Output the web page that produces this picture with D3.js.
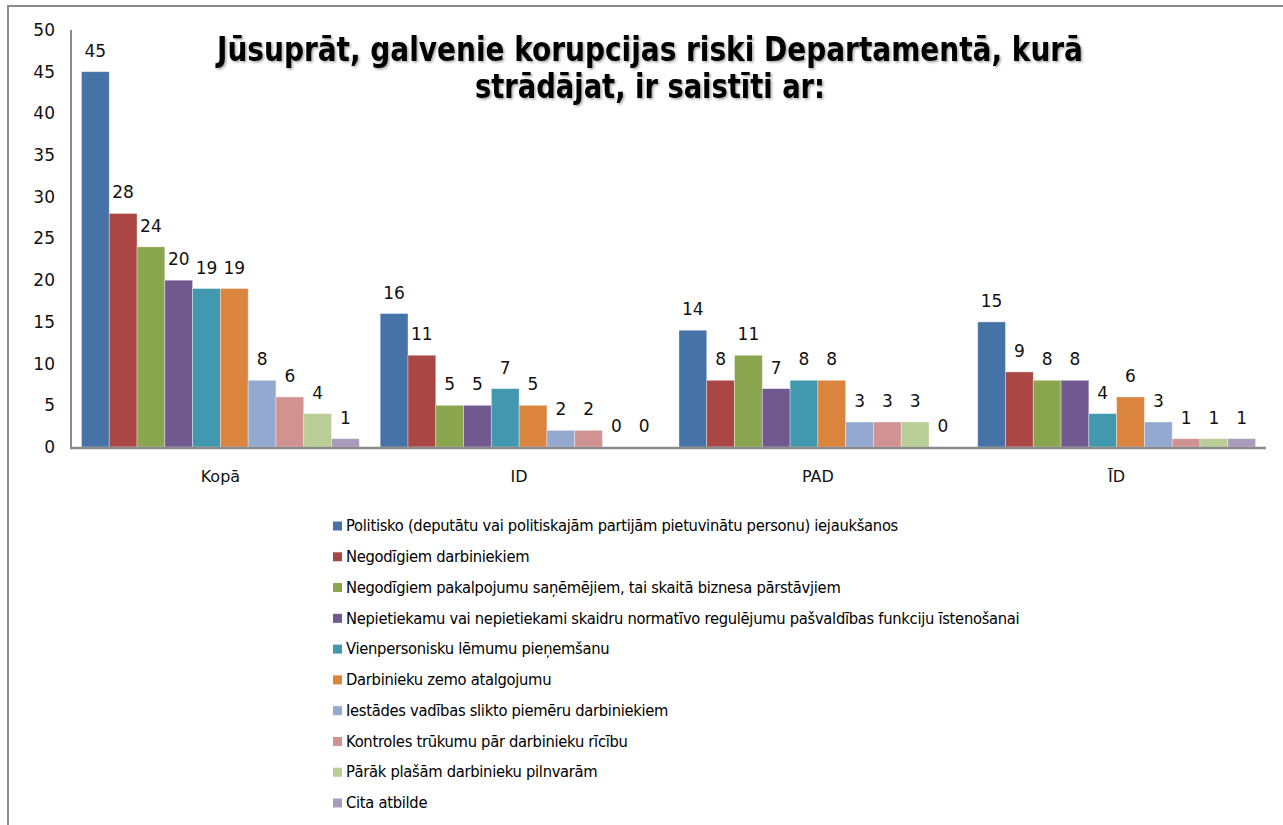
<!DOCTYPE html>
<html>
<head>
<meta charset="utf-8">
<script src="https://cdn.jsdelivr.net/npm/d3@7/dist/d3.min.js"></script>
<style>
  body { margin: 0; background: #fff; }
  svg { display: block; font-family: "DejaVu Sans", Verdana, sans-serif; }
</style>
</head>
<body>
<div id="chart"></div>
<script>
// chart data
const groups = ["Kopā", "ID", "PAD", "ĪD"];
const seriesNames = [
  "Politisko (deputātu vai politiskajām partijām pietuvinātu personu) iejaukšanos",
  "Negodīgiem darbiniekiem",
  "Negodīgiem pakalpojumu saņēmējiem, tai skaitā biznesa pārstāvjiem",
  "Nepietiekamu vai nepietiekami skaidru normatīvo regulējumu pašvaldības funkciju īstenošanai",
  "Vienpersonisku lēmumu pieņemšanu",
  "Darbinieku zemo atalgojumu",
  "Iestādes vadības slikto piemēru darbiniekiem",
  "Kontroles trūkumu pār darbinieku rīcību",
  "Pārāk plašām darbinieku pilnvarām",
  "Cita atbilde"
];
const seriesColors = ["#4572A7", "#AA4643", "#89A54E", "#71588F", "#4198AF",
                      "#DB843D", "#93A9CF", "#D19392", "#B9CD96", "#A99BBD"];
const kopaValues = [45, 28, 24, 20, 19, 19, 8, 6, 4, 1];
const idValues   = [16, 11, 5, 5, 7, 5, 2, 2, 0, 0];
const padValues  = [14, 8, 11, 7, 8, 8, 3, 3, 3, 0];
const iidValues  = [15, 9, 8, 8, 4, 6, 3, 1, 1, 1];
const yTicks = [0, 5, 10, 15, 20, 25, 30, 35, 40, 45, 50];
const titleLines = ["Jūsuprāt, galvenie korupcijas riski Departamentā, kurā",
                    "strādājat, ir saistīti ar:"];

const groupValues = [kopaValues, idValues, padValues, iidValues];

const W = 1283, H = 825;
const plot = { left: 71, right: 1266, top: 30, bottom: 447 };

const svg = d3.select("#chart").append("svg")
  .attr("width", W).attr("height", H);

// title shadow filter
const defs = svg.append("defs");
const f = defs.append("filter").attr("id", "shadow")
  .attr("x", "-5%").attr("y", "-20%").attr("width", "110%").attr("height", "140%");
f.append("feDropShadow").attr("dx", 1.5).attr("dy", 1.5)
  .attr("stdDeviation", 1).attr("flood-color", "#000").attr("flood-opacity", 0.35);

// outer frame (runs off the right and bottom edge)
svg.append("rect")
  .attr("x", 8).attr("y", 6).attr("width", W + 20).attr("height", H + 20)
  .attr("fill", "none").attr("stroke", "#8c8c8c").attr("stroke-width", 2);

// scales
const x0 = d3.scaleBand().domain(groups)
  .range([plot.left, plot.right]).paddingInner(0.07).paddingOuter(0.035);
const x1 = d3.scaleBand().domain(d3.range(seriesNames.length))
  .range([0, x0.bandwidth()]);
const y = d3.scaleLinear().domain([0, 50]).range([plot.bottom, plot.top]);

// bars
const g = svg.append("g");
groups.forEach((grp, gi) => {
  const gg = g.append("g").attr("transform", `translate(${x0(grp)},0)`);
  gg.selectAll("rect")
    .data(groupValues[gi])
    .join("rect")
    .attr("x", (d, i) => x1(i))
    .attr("y", d => y(d))
    .attr("width", x1.bandwidth())
    .attr("height", d => y(0) - y(d))
    .attr("fill", (d, i) => seriesColors[i])
    .attr("stroke", "#fff").attr("stroke-opacity", 0.45).attr("stroke-width", 0.8);

  gg.selectAll("text")
    .data(groupValues[gi])
    .join("text")
    .attr("x", (d, i) => x1(i) + x1.bandwidth() / 2)
    .attr("y", d => y(d) - 15)
    .attr("text-anchor", "middle")
    .style("font-size", "17px")
    .attr("fill", "#111")
    .text(d => d);
});

// y axis
const yAxis = svg.append("g")
  .attr("transform", `translate(${plot.left},0)`)
  .call(d3.axisLeft(y).tickValues(yTicks).tickSize(0).tickPadding(16));
yAxis.select(".domain").remove();
yAxis.selectAll("text").style("font-size", "17px").attr("fill", "#111")
  .style("font-family", "'DejaVu Sans', Verdana, sans-serif");

svg.append("line")
  .attr("x1", plot.left).attr("x2", plot.left)
  .attr("y1", plot.top).attr("y2", plot.bottom)
  .attr("stroke", "#8a8a8a").attr("stroke-width", 2);

// x axis
const xAxis = svg.append("g")
  .attr("transform", `translate(0,${plot.bottom})`)
  .call(d3.axisBottom(x0).tickSize(0).tickPadding(24));
xAxis.select(".domain").remove();
xAxis.selectAll("text").style("font-size", "16px").attr("fill", "#111")
  .style("font-family", "'DejaVu Sans', Verdana, sans-serif");

svg.append("line")
  .attr("x1", plot.left - 1).attr("x2", plot.right)
  .attr("y1", plot.bottom + 1).attr("y2", plot.bottom + 1)
  .attr("stroke", "#8a8a8a").attr("stroke-width", 2.5);

// title
const titleWidths = [866, 350];
const title = svg.append("g").attr("filter", "url(#shadow)");
titleLines.forEach((t, i) => {
  title.append("text")
    .attr("x", 650)
    .attr("y", 61 + i * 37)
    .attr("text-anchor", "middle")
    .style("font-size", "33px")
    .style("font-weight", "bold")
    .attr("textLength", titleWidths[i])
    .attr("lengthAdjust", "spacingAndGlyphs")
    .attr("fill", "#000")
    .text(t);
});

// legend
const legend = svg.append("g");
const legendY = d3.scalePoint().domain(d3.range(seriesNames.length))
  .range([526, 803]);
const items = legend.selectAll("g")
  .data(seriesNames)
  .join("g")
  .attr("transform", (d, i) => `translate(333,${legendY(i)})`);
items.append("rect")
  .attr("x", 0).attr("y", -4.5).attr("width", 9).attr("height", 9)
  .attr("fill", (d, i) => seriesColors[i]);
const labels = items.append("text")
  .attr("x", 13).attr("dy", "0.35em")
  .style("font-size", "15px")
  .style("letter-spacing", "-0.3px")
  .attr("fill", "#000")
  .text(d => d);
// squeeze the legend text the same way as the original narrow font
const natural = labels.nodes()[0].getComputedTextLength();
const k = 552 / natural;
labels.each(function () {
  const len = this.getComputedTextLength();
  d3.select(this).attr("textLength", len * k).attr("lengthAdjust", "spacingAndGlyphs");
});
</script>
</body>
</html>
